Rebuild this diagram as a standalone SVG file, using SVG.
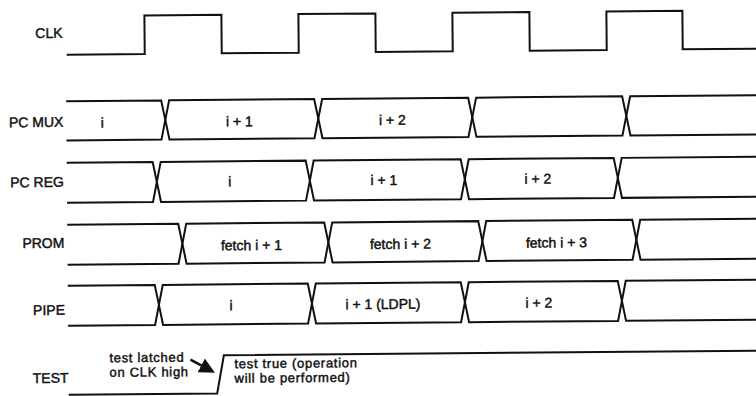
<svg xmlns="http://www.w3.org/2000/svg" width="756" height="396" viewBox="0 0 756 396">
  <defs>
    <style>
      .wave { fill: none; stroke: #111; stroke-width: 2; stroke-linejoin: miter; }
      .lbl { font-family: "Liberation Sans", Arial, Helvetica, sans-serif; font-size: 14px; fill: #111; stroke: #111; stroke-width: 0.45; }
      .row { text-anchor: end; }
      .val { text-anchor: middle; }
      .note { font-size: 13px; letter-spacing: 0.7px; }
      .arrow { fill: none; stroke: #111; stroke-width: 2.6; }
    </style>
    <marker id="head" markerWidth="6" markerHeight="6" refX="4.5" refY="3" orient="auto" markerUnits="strokeWidth">
      <path d="M0,0 L6,3 L0,6 Z" fill="#111"/>
    </marker>
  </defs>
  <rect width="756" height="396" fill="#fff"/>

  <!-- whole timing chart, slightly tilted as printed -->
  <g transform="rotate(-0.5 378 198)">

    <!-- signal names -->
    <g id="labels">
      <text class="lbl row" x="64" y="35">CLK</text>
      <text class="lbl row" x="64" y="124">PC MUX</text>
      <text class="lbl row" x="64" y="184">PC REG</text>
      <text class="lbl row" x="64" y="245">PROM</text>
      <text class="lbl row" x="64" y="312">PIPE</text>
      <text class="lbl row" x="67" y="380">TEST</text>
    </g>

    <g id="connectors">
      <!-- annotation arrow: test latched on CLK high -->
      <line class="arrow" x1="189" y1="358" x2="210" y2="369.5" marker-end="url(#head)"/>
    </g>

    <!-- clock -->
    <g id="clk">
      <path class="wave" d="M68,52 H146 V13.4 H223 V52 H300 V13.4 H377 V52 H454 V13.4 H531 V52 H608 V13.4 H684 V52 H760"/>
    </g>

    <!-- PC MUX: crossings 166, 319, 473, 627 -->
    <g id="pcmux">
      <path class="wave" d="M67,98.5 H162 L166,118 L162,137.7 H67"/>
      <path class="wave" d="M166,118 L170,98.5 H315 L319,118 L315,137.7 H170 Z"/>
      <path class="wave" d="M319,118 L323,98.5 H469 L473,118 L469,137.7 H323 Z"/>
      <path class="wave" d="M473,118 L477,98.5 H623 L627,118 L623,137.7 H477 Z"/>
      <path class="wave" d="M760,98.5 H631 L627,118 L631,137.7 H760"/>
      <text class="lbl val" x="103" y="125">i</text>
      <text class="lbl val" x="240" y="125">i + 1</text>
      <text class="lbl val" x="393" y="125">i + 2</text>
    </g>

    <!-- PC REG: crossings 157, 310, 465, 618 -->
    <g id="pcreg">
      <path class="wave" d="M67,160 H153 L157,180 L153,200 H67"/>
      <path class="wave" d="M157,180 L161,160 H306 L310,180 L306,200 H161 Z"/>
      <path class="wave" d="M310,180 L314,160 H461 L465,180 L461,200 H314 Z"/>
      <path class="wave" d="M465,180 L469,160 H614 L618,180 L614,200 H469 Z"/>
      <path class="wave" d="M760,160 H622 L618,180 L622,200 H760"/>
      <text class="lbl val" x="230" y="185">i</text>
      <text class="lbl val" x="384" y="185">i + 1</text>
      <text class="lbl val" x="538" y="185">i + 2</text>
    </g>

    <!-- PROM: crossings 182, 328, 482, 636 -->
    <g id="prom">
      <path class="wave" d="M67,222 H178 L182,242 L178,262 H67"/>
      <path class="wave" d="M182,242 L186,222 H324 L328,242 L324,262 H186 Z"/>
      <path class="wave" d="M328,242 L332,222 H478 L482,242 L478,262 H332 Z"/>
      <path class="wave" d="M482,242 L486,222 H632 L636,242 L632,262 H486 Z"/>
      <path class="wave" d="M760,222 H640 L636,242 L640,262 H760"/>
      <text class="lbl val" x="251" y="249">fetch i + 1</text>
      <text class="lbl val" x="400" y="249">fetch i + 2</text>
      <text class="lbl val" x="556" y="249">fetch i + 3</text>
    </g>

    <!-- PIPE: crossings 158, 311, 464, 621 -->
    <g id="pipe">
      <path class="wave" d="M67,283 H154 L158,303 L154,323 H67"/>
      <path class="wave" d="M158,303 L162,283 H307 L311,303 L307,323 H162 Z"/>
      <path class="wave" d="M311,303 L315,283 H460 L464,303 L460,323 H315 Z"/>
      <path class="wave" d="M464,303 L468,283 H617 L621,303 L617,323 H468 Z"/>
      <path class="wave" d="M760,283 H625 L621,303 L625,323 H760"/>
      <text class="lbl val" x="230" y="309">i</text>
      <text class="lbl val" x="382" y="309">i + 1 (LDPL)</text>
      <text class="lbl val" x="538" y="309">i + 2</text>
    </g>

    <!-- TEST -->
    <g id="test">
      <path class="wave" d="M67,392 H215.5 L222.5,354 H760"/>
      <text class="lbl note" x="108" y="360">test latched</text>
      <text class="lbl note" x="108" y="374.5">on CLK high</text>
      <text class="lbl note" x="233" y="367">test true (operation</text>
      <text class="lbl note" x="233" y="381.5">will be performed)</text>
    </g>
  </g>
</svg>
